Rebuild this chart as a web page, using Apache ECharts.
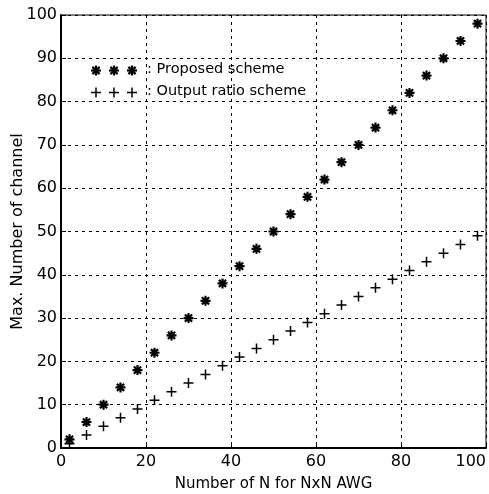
<!DOCTYPE html>
<html><head><meta charset="utf-8">
<script src="https://cdn.jsdelivr.net/npm/echarts@6/dist/echarts.min.js"></script>
<style>html,body{margin:0;padding:0;background:#fff}#c{width:489px;height:494px}</style>
</head><body><div id="c"></div>
<script>
var nValues = [2,6,10,14,18,22,26,30,34,38,42,46,50,54,58,62,66,70,74,78,82,86,90,94,98];
var proposed = [2,6,10,14,18,22,26,30,34,38,42,46,50,54,58,62,66,70,74,78,82,86,90,94,98];
var outputRatio = [1,3,5,7,9,11,13,15,17,19,21,23,25,27,29,31,33,35,37,39,41,43,45,47,49];
var seriesNames = ['Proposed scheme','Output ratio scheme'];
var xTitle = 'Number of N for NxN AWG';
var yTitle = 'Max. Number of channel';

var STAR = 'path://M0,-5L0,5M-5,0L5,0M-3.6,-3.6L3.6,3.6M-3.6,3.6L3.6,-3.6';
var PLUS = 'path://M-5,0L5,0M0,-5L0,5';
var FONT = 'DejaVu Sans';

function pairs(xs, ys){ return xs.map(function(x,i){return [x, ys[i]];}); }

var chart = echarts.init(document.getElementById('c'), null, {renderer:'canvas'});

function seg(x1,y1,x2,y2,w){
  return {type:'line', shape:{x1:x1,y1:y1,x2:x2,y2:y2}, style:{stroke:'#000', lineWidth:w}, z:10};
}
var legendGraphics = [];
[96,114,132].forEach(function(x){
  var y=70.5, r=5, d=3.6;
  legendGraphics.push(seg(x,y-r,x,y+r,2.2), seg(x-r,y,x+r,y,2.2), seg(x-d,y-d,x+d,y+d,2.2), seg(x-d,y+d,x+d,y-d,2.2));
  var y2=92.5;
  legendGraphics.push(seg(x,y2-r,x,y2+r,1.5), seg(x-r,y2,x+r,y2,1.5));
});
legendGraphics.push({type:'text', left:147, top:62, style:{text:': '+seriesNames[0], font:'14.5px "DejaVu Sans"', fill:'#000'}, z:10});
legendGraphics.push({type:'text', left:147, top:84, style:{text:': '+seriesNames[1], font:'14.5px "DejaVu Sans"', fill:'#000'}, z:10});

chart.setOption({
  backgroundColor:'#fff',
  animation:false,
  grid:{left:61, right:3, top:15, bottom:46, outerBoundsMode:'none', containLabel:false,
        show:true, borderColor:'#000', borderWidth:1, backgroundColor:'transparent'},
  xAxis:{
    type:'value', min:0, max:100, interval:20,
    name:xTitle, nameLocation:'middle', nameGap:29, nameMoveOverlap:false,
    nameTextStyle:{fontFamily:FONT, fontSize:15, color:'#000'},
    axisLine:{show:true, lineStyle:{color:'#000', width:2}},
    axisTick:{show:true, inside:true, length:5, lineStyle:{color:'#000'}},
    axisLabel:{fontFamily:FONT, fontSize:16, color:'#000', margin:6, alignMaxLabel:'right'},
    splitLine:{show:true, lineStyle:{color:'#000', type:[3,4], width:1}}
  },
  yAxis:{
    type:'value', min:0, max:100, interval:10,
    name:yTitle, nameLocation:'middle', nameGap:35, nameMoveOverlap:false,
    nameTextStyle:{fontFamily:FONT, fontSize:16, color:'#000'},
    axisLine:{show:true, lineStyle:{color:'#000', width:2}},
    axisTick:{show:true, inside:true, length:5, lineStyle:{color:'#000'}},
    axisLabel:{fontFamily:FONT, fontSize:16, color:'#000', margin:4},
    splitLine:{show:true, lineStyle:{color:'#000', type:[3,4], width:1}}
  },
  series:[
    {name:seriesNames[0], type:'scatter', data:pairs(nValues, proposed), symbol:STAR, symbolSize:10,
     itemStyle:{color:'#000', borderColor:'#000', borderWidth:2.2, opacity:1}},
    {name:seriesNames[1], type:'scatter', data:pairs(nValues, outputRatio), symbol:PLUS, symbolSize:10,
     itemStyle:{color:'#000', borderColor:'#000', borderWidth:1.5, opacity:1}}
  ],
  graphic: legendGraphics
});
</script></body></html>
